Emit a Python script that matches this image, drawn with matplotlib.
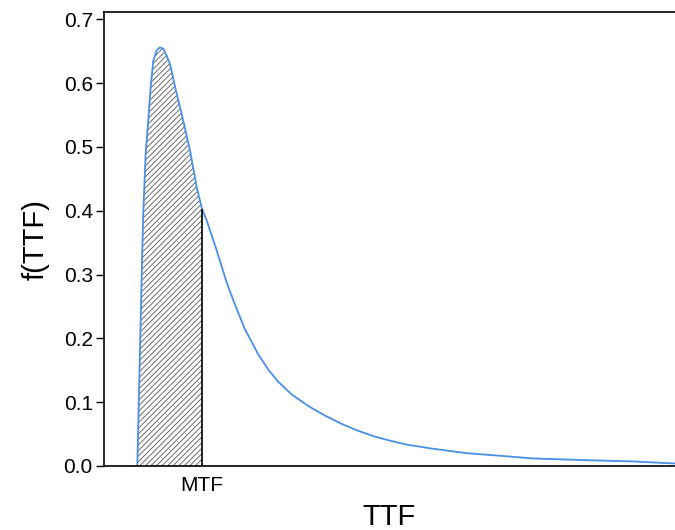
import matplotlib
matplotlib.use('Agg')
import matplotlib.pyplot as plt
import numpy as np

plt.rcParams['font.family'] = ['Liberation Sans', 'DejaVu Sans']
plt.rcParams['hatch.linewidth'] = 0.6

ttf = np.array([2.80, 2.92, 3.15, 3.35, 3.44, 3.65, 3.88, 4.09, 4.32, 4.61, 4.90,
                5.19, 5.49, 5.78, 6.37, 6.80, 7.53, 8.12, 8.58, 8.99, 9.87,
                10.74, 11.47, 12.35, 13.51, 14.39, 15.26, 16.44, 17.89, 19.35,
                20.81, 22.27, 23.73, 25.19, 26.65, 28.11, 28.81, 31.79, 34.68,
                37.57, 41.68, 46.32, 49.30, 50.0])
density = np.array([0.0, 0.0, 0.176, 0.333, 0.395, 0.489, 0.541, 0.594, 0.635, 0.651, 0.656,
                    0.654, 0.643, 0.630, 0.583, 0.552, 0.495, 0.437, 0.403, 0.385, 0.338,
                    0.288, 0.253, 0.214, 0.175, 0.151, 0.132, 0.112, 0.094, 0.079,
                    0.066, 0.055, 0.046, 0.039, 0.033, 0.029, 0.027, 0.020, 0.016,
                    0.0118, 0.0094, 0.0071, 0.0045, 0.0040])
mtf = 8.58
y_ticks = [0.0, 0.1, 0.2, 0.3, 0.4, 0.5, 0.6, 0.7]

fig = plt.figure(figsize=(6.75, 5.3), dpi=100)
ax = fig.add_axes([0.154, 0.1208, 0.846, 0.856])

mask = ttf <= mtf
ax.fill_between(ttf[mask], 0, density[mask], facecolor='white',
                edgecolor='#555555', hatch='//////', linewidth=0)
ax.plot(ttf, density, color='#4a8fe6', linewidth=1.3)
ax.vlines(mtf, 0, np.interp(mtf, ttf, density), color='black', linewidth=1.2)

ax.set_xlim(0, 50)
ax.set_ylim(0, 0.711)
ax.set_yticks(y_ticks)
ax.set_yticklabels(['%.1f' % v for v in y_ticks])
ax.set_xticks([mtf])
ax.set_xticklabels(['MTF'])
ax.tick_params(axis='y', length=6, width=1, labelsize=15, pad=2)
ax.tick_params(axis='x', length=0, labelsize=15, pad=7)
ax.set_xlabel('TTF', fontsize=21, labelpad=6)
ax.set_ylabel('f(TTF)', fontsize=21, labelpad=10)

for s in ['left', 'bottom', 'top']:
    ax.spines[s].set_linewidth(1.2)
ax.spines['right'].set_visible(False)

fig.savefig('out.png', dpi=100)
